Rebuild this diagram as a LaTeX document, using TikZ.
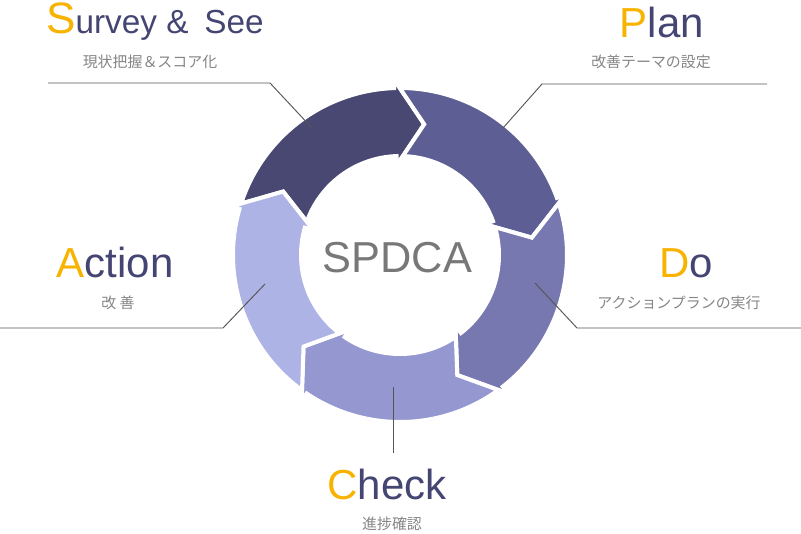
\documentclass[tikz,border=0pt]{standalone}
\usepackage{fontspec}
\setmainfont{Liberation Sans}
\newfontfamily\jpfont{Noto Sans CJK JP}
\definecolor{navy}{HTML}{454573}
\definecolor{orng}{HTML}{F8B300}
\definecolor{subgray}{HTML}{858585}
\definecolor{centergray}{HTML}{787878}
\definecolor{leadgray}{HTML}{555555}
\definecolor{cA}{HTML}{484873}
\definecolor{cB}{HTML}{5D5E93}
\definecolor{cC}{HTML}{7878B0}
\definecolor{cD}{HTML}{9598D0}
\definecolor{cE}{HTML}{AEB3E6}
% #1 = base angle of the head, #2 = colour
\newcommand\cyclearrow[2]{%
  \path[arrowshape, fill=#2]
    (#1+70.08:167) arc[start angle=#1+70.08, end angle=#1, radius=167]
    -- (#1:176) -- (#1-12.5:133) -- (#1:90) -- (#1:99)
    arc[start angle=#1, end angle=#1+68.34, radius=99]
    -- (#1+59.5:133) -- cycle;}
\tikzset{
  arrowshape/.style={draw=white, line width=3pt, line join=miter},
  title/.style={anchor=base, inner sep=0pt, text=navy, font=\fontsize{31.5}{36}\selectfont},
  sub/.style={anchor=base, inner sep=0pt, text=subgray, font=\jpfont\fontsize{11.2}{14}\selectfont},
  leader/.style={draw=leadgray, line width=0.7pt},
}
\begin{document}
\begin{tikzpicture}[x=0.75pt, y=-0.75pt]
\useasboundingbox (0,0) rectangle (801,533);
\begin{scope}[shift={(400,255)}]
\begin{scope}[y=0.75pt]
  \cyclearrow{92}{cA}
  \cyclearrow{20}{cB}
  \cyclearrow{-52}{cC}
  \cyclearrow{-124}{cD}
  \cyclearrow{-196}{cE}
\end{scope}
\end{scope}
\node[anchor=base, inner sep=0pt, text=centergray, font=\fontsize{32.5}{36}\selectfont] (center) at (397.5,272) {SPDCA};
% titles
\node[title] (tS) at (155,33) {{\fontsize{33}{36}\selectfont\textcolor{orng}{S}}{\fontsize{25}{28}\selectfont urvey \&\hspace{5pt} See}};
\node[title] (tP) at (662,37) {\textcolor{orng}{P}lan};
\node[title] (tD) at (686,277) {\textcolor{orng}{D}o};
\node[title] (tA) at (115,277) {\textcolor{orng}{A}ction};
\node[title] (tC) at (387,499) {\textcolor{orng}{C}heck};
% subtitles
\node[sub] (sS) at (150,67.5) {現状把握＆スコア化};
\node[sub] (sP) at (651,67.5) {改善テーマの設定};
\node[sub] (sD) at (679,308.5) {アクションプランの実行};
\node[sub] (sA) at (118,308.5) {改 善};
\node[sub] (sC) at (392,529.5) {進捗確認};
% leader lines
\coordinate (lS1) at (48,83); \coordinate (lS2) at (270,83); \coordinate (lS3) at (312,128);
\coordinate (lP1) at (767,84); \coordinate (lP2) at (542,84); \coordinate (lP3) at (503,128);
\coordinate (lD1) at (535,283); \coordinate (lD2) at (577,328); \coordinate (lD3) at (801,328);
\coordinate (lA1) at (0,328); \coordinate (lA2) at (223,328); \coordinate (lA3) at (265,284);
\coordinate (lC1) at (393,387); \coordinate (lC2) at (393,453);
\draw[leader] (lS1) -- (lS2) -- (lS3);
\draw[leader] (lP1) -- (lP2) -- (lP3);
\draw[leader] (lD1) -- (lD2) -- (lD3);
\draw[leader] (lA1) -- (lA2) -- (lA3);
\draw[leader] (lC1) -- (lC2);
\end{tikzpicture}
\end{document}
